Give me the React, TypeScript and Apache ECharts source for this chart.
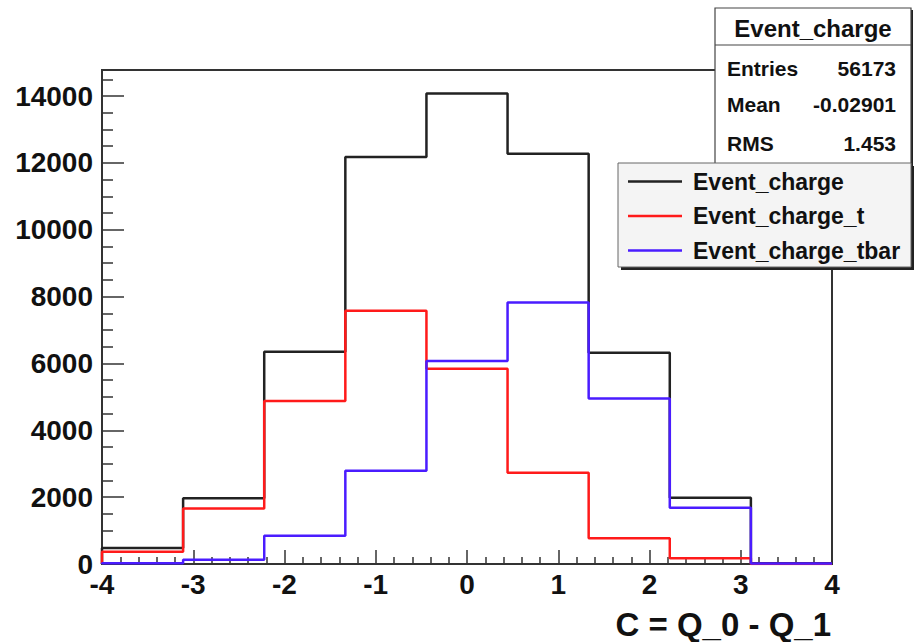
import React, { useEffect, useRef } from "react";
import * as echarts from "echarts";

// Histogram definition
const X_MIN = -4;
const X_MAX = 4;
const N_BINS = 9;
const seriesNames = ["Event_charge", "Event_charge_t", "Event_charge_tbar"];
const eventCharge = [480, 1970, 6347, 12180, 14075, 12278, 6320, 1982, 20];
const eventChargeT = [370, 1660, 4880, 7575, 5845, 2730, 768, 170, 0];
const eventChargeTbar = [25, 130, 842, 2790, 6070, 7825, 4955, 1683, 15];
const statLabels = ["Entries", "Mean", "RMS"];
const statValues = ["56173", "-0.02901", "1.453"];
const xTitle = "C = Q_0 - Q_1";

const FONT = "'Liberation Sans', Arial, Helvetica, sans-serif";

function histPoints(values: number[]): [number, number][] {
  const w = (X_MAX - X_MIN) / N_BINS;
  const pts: [number, number][] = [[X_MIN, 0]];
  values.forEach((v, i) => pts.push([X_MIN + i * w, v]));
  pts.push([X_MAX, values[values.length - 1]]);
  pts.push([X_MAX, 0]);
  return pts;
}

export default function App() {
  const ref = useRef<HTMLDivElement>(null);
  useEffect(() => {
    if (!ref.current) return;
    const chart = echarts.init(ref.current, null, { renderer: "svg" });
    const colors = ["#222222", "#ff1a1a", "#4a1cff"];
    const datasets = [eventCharge, eventChargeT, eventChargeTbar];

    const statBox = { x: 715, y: 8, w: 196, h: 158 };
    const legBox = { x: 618, y: 163, w: 293, h: 104 };

    const graphic: any[] = [
      {
        type: "rect",
        z: 10,
        shape: { x: statBox.x + 2, y: statBox.y + 2, width: statBox.w, height: statBox.h },
        style: { fill: "#222" },
      },
      {
        type: "rect",
        z: 10,
        shape: { x: statBox.x, y: statBox.y, width: statBox.w, height: statBox.h },
        style: { fill: "#ffffff", stroke: "#444", lineWidth: 1.2 },
      },
      {
        type: "line",
        z: 10,
        shape: { x1: statBox.x, y1: 45, x2: statBox.x + statBox.w, y2: 45 },
        style: { stroke: "#444", lineWidth: 1.2 },
      },
      {
        type: "text",
        z: 11,
        x: statBox.x + statBox.w / 2,
        y: 28,
        style: {
          text: seriesNames[0],
          fontFamily: FONT,
          fontWeight: "bold",
          fontSize: 24,
          fill: "#111",
          align: "center",
          verticalAlign: "middle",
          textAlign: "center",
          textVerticalAlign: "middle",
        },
      },
      ...statLabels.map((t, i) => ({
        type: "text",
        z: 11,
        x: 727,
        y: [68, 104, 143][i],
        style: {
          text: t,
          fontFamily: FONT,
          fontWeight: "bold",
          fontSize: 21,
          fill: "#111",
          align: "left",
          verticalAlign: "middle",
          textAlign: "left",
          textVerticalAlign: "middle",
        },
      })),
      ...statValues.map((t, i) => ({
        type: "text",
        z: 11,
        x: 896,
        y: [68, 104, 143][i],
        style: {
          text: t,
          fontFamily: FONT,
          fontWeight: "bold",
          fontSize: 21,
          fill: "#111",
          align: "right",
          verticalAlign: "middle",
          textAlign: "right",
          textVerticalAlign: "middle",
        },
      })),
      {
        type: "rect",
        z: 12,
        shape: { x: legBox.x + 3, y: legBox.y + 3, width: legBox.w, height: legBox.h },
        style: { fill: "#222" },
      },
      {
        type: "rect",
        z: 12,
        shape: { x: legBox.x, y: legBox.y, width: legBox.w, height: legBox.h },
        style: { fill: "#f4f4f4", stroke: "#666", lineWidth: 1 },
      },
      {
        type: "text",
        z: 11,
        x: 831,
        y: 624,
        style: {
          text: xTitle,
          fontFamily: FONT,
          fontWeight: "bold",
          fontSize: 33,
          fill: "#111",
          align: "right",
          verticalAlign: "middle",
          textAlign: "right",
          textVerticalAlign: "middle",
        },
      },
    ];

    chart.setOption({
      animation: false,
      backgroundColor: "#ffffff",
      grid: {
        left: 102,
        right: 84,
        top: 70,
        bottom: 78,
        show: true,
        borderColor: "#333",
        borderWidth: 2,
        backgroundColor: "transparent",
      },
      xAxis: {
        type: "value",
        min: X_MIN,
        max: X_MAX,
        interval: 1,
        splitLine: { show: false },
        axisLine: { show: true, onZero: false, lineStyle: { color: "#333", width: 2 } },
        axisTick: { show: true, inside: true, length: 14, lineStyle: { color: "#333", width: 1.5 } },
        minorTick: { show: true, splitNumber: 5, length: 7, lineStyle: { color: "#333", width: 1.5 } },
        axisLabel: {
          margin: 6,
          fontFamily: FONT,
          fontWeight: "bold",
          fontSize: 28,
          color: "#111",
          showMinLabel: true,
          showMaxLabel: true,
          formatter: (v: number) => String(v),
        },
      },
      yAxis: {
        type: "value",
        min: 0,
        max: 14780,
        interval: 2000,
        splitLine: { show: false },
        axisLine: { show: true, onZero: false, lineStyle: { color: "#333", width: 2 } },
        axisTick: { show: true, inside: true, length: 22, lineStyle: { color: "#333", width: 1.5 } },
        minorTick: { show: true, splitNumber: 4, length: 11, lineStyle: { color: "#333", width: 1.5 } },
        axisLabel: {
          margin: 9,
          fontFamily: FONT,
          fontWeight: "bold",
          fontSize: 28,
          color: "#111",
          showMaxLabel: false,
          formatter: (v: number) => String(v),
        },
      },
      legend: {
        orient: "vertical",
        left: 618,
        top: 163,
        padding: [7, 10, 7, 10],
        itemWidth: 54,
        itemHeight: 2.5,
        itemGap: 11.5,
        icon: "rect",
        selectedMode: false,
        z: 20,
        data: seriesNames,
        textStyle: {
          fontFamily: FONT,
          fontWeight: "bold",
          fontSize: 23,
          lineHeight: 21,
          color: "#111",
          padding: [0, 0, 0, 6],
        },
      },
      graphic,
      series: datasets.map((d, i) => ({
        name: seriesNames[i],
        type: "line",
        step: "end",
        data: histPoints(d),
        showSymbol: false,
        symbol: "none",
        color: colors[i],
        lineStyle: { color: colors[i], width: 2.5 },
        z: 2 + i,
      })),
    });
    return () => chart.dispose();
  }, []);
  return (
    <div
      ref={ref}
      style={{ position: "fixed", left: 0, top: 0, width: 916, height: 642 }}
    />
  );
}
